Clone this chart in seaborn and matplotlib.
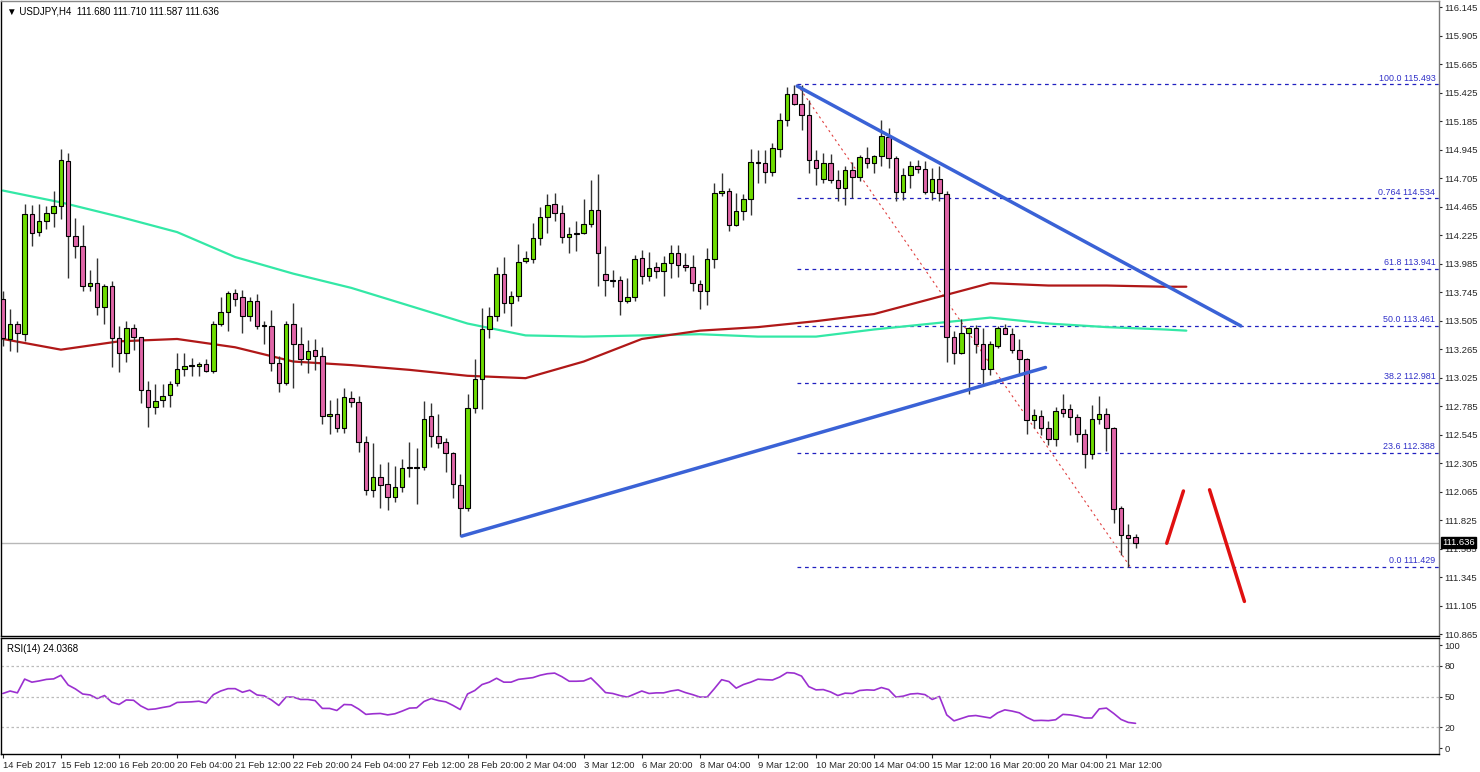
import numpy as np
import pandas as pd
import seaborn as sns
import matplotlib.pyplot as plt

# USDJPY H4 candles
opens = [113.69, 113.35, 113.48, 113.39, 114.40, 114.25, 114.34, 114.41, 114.47, 114.85,
         114.22, 114.13, 113.80, 113.82, 113.62, 113.80, 113.36, 113.23, 113.44, 113.37,
         112.92, 112.78, 112.84, 112.88, 112.98, 113.10, 113.12, 113.12, 113.14, 113.08,
         113.48, 113.58, 113.74, 113.70, 113.54, 113.67, 113.46, 113.46, 113.15, 112.98,
         113.48, 113.31, 113.18, 113.26, 113.21, 112.70, 112.72, 112.60, 112.85, 112.82,
         112.48, 112.08, 112.19, 112.13, 112.02, 112.10, 112.27, 112.27, 112.27, 112.70,
         112.53, 112.48, 112.39, 112.12, 111.93, 112.77, 113.01, 113.43, 113.54, 113.90,
         113.65, 113.71, 114.01, 114.02, 114.20, 114.38, 114.49, 114.41, 114.21, 114.24,
         114.24, 114.32, 114.44, 113.90, 113.85, 113.85, 113.67, 113.70, 114.03, 113.88,
         113.96, 113.92, 113.99, 114.07, 113.97, 113.96, 113.81, 113.75, 114.02, 114.58,
         114.60, 114.31, 114.43, 114.53, 114.84, 114.83, 114.76, 114.95, 115.19, 115.41,
         115.33, 115.24, 114.86, 114.70, 114.83, 114.69, 114.62, 114.77, 114.71, 114.87,
         114.83, 114.89, 115.05, 114.87, 114.59, 114.73, 114.81, 114.78, 114.59, 114.70,
         114.57, 113.37, 113.23, 113.40, 113.44, 113.31, 113.10, 113.29, 113.44, 113.39,
         113.26, 113.18, 112.67, 112.70, 112.60, 112.51, 112.76, 112.76, 112.69, 112.55,
         112.38, 112.68, 112.72, 112.60, 111.93, 111.70, 111.680]
highs = [113.75, 113.60, 113.50, 114.49, 114.48, 114.49, 114.47, 114.60, 114.95, 114.92,
         114.37, 114.31, 113.93, 114.03, 113.81, 113.84, 113.46, 113.50, 113.48, 113.37,
         113.00, 112.97, 112.97, 113.00, 113.23, 113.23, 113.19, 113.16, 113.18, 113.50,
         113.70, 113.75, 113.77, 113.76, 113.70, 113.73, 113.50, 113.59, 113.21, 113.50,
         113.65, 113.45, 113.34, 113.35, 113.28, 112.84, 112.85, 112.94, 112.91, 112.87,
         112.53, 112.47, 112.30, 112.31, 112.28, 112.34, 112.48, 112.43, 112.83, 112.81,
         112.72, 112.52, 112.40, 112.21, 112.89, 113.18, 113.61, 113.62, 113.96, 114.04,
         113.75, 114.15, 114.09, 114.33, 114.46, 114.57, 114.58, 114.48, 114.29, 114.34,
         114.53, 114.69, 114.74, 114.13, 113.93, 113.88, 113.86, 114.06, 114.10, 114.08,
         114.00, 114.05, 114.14, 114.14, 114.07, 114.06, 113.85, 114.12, 114.66, 114.75,
         114.62, 114.58, 114.57, 114.95, 114.94, 114.94, 115.00, 115.25, 115.47, 115.49,
         115.49, 115.36, 114.94, 114.92, 114.91, 114.77, 114.81, 114.84, 114.90, 114.97,
         114.90, 115.19, 115.13, 114.89, 114.79, 114.85, 114.86, 114.85, 114.79, 114.81,
         114.60, 113.42, 113.52, 113.45, 113.47, 113.44, 113.33, 113.46, 113.48, 113.44,
         113.35, 113.19, 112.76, 112.75, 112.66, 112.78, 112.89, 112.80, 112.72, 112.59,
         112.79, 112.87, 112.77, 112.61, 111.94, 111.79, 111.710]
lows = [113.29, 113.25, 113.24, 113.33, 114.13, 114.22, 114.28, 114.29, 114.36, 113.86,
        114.03, 113.75, 113.75, 113.55, 113.48, 113.11, 113.07, 113.16, 113.26, 112.81,
        112.61, 112.72, 112.78, 112.78, 112.95, 113.04, 113.04, 113.04, 113.07, 113.06,
        113.46, 113.42, 113.63, 113.40, 113.50, 113.43, 113.31, 113.08, 112.90, 112.96,
        112.94, 113.13, 113.06, 113.09, 112.63, 112.55, 112.57, 112.56, 112.78, 112.40,
        112.04, 112.02, 111.93, 111.91, 111.98, 112.06, 112.19, 111.96, 112.25, 112.44,
        112.43, 112.23, 112.01, 111.69, 111.90, 112.73, 112.76, 113.36, 113.50, 113.57,
        113.46, 113.67, 113.99, 113.99, 114.14, 114.24, 114.34, 114.16, 114.07, 114.09,
        114.23, 114.29, 113.80, 113.71, 113.79, 113.55, 113.65, 113.67, 113.81, 113.84,
        113.86, 113.71, 113.86, 113.87, 113.92, 113.75, 113.60, 113.64, 113.95, 114.55,
        114.26, 114.30, 114.35, 114.39, 114.66, 114.66, 114.72, 114.88, 115.14, 115.32,
        115.11, 114.75, 114.65, 114.66, 114.66, 114.51, 114.48, 114.54, 114.68, 114.79,
        114.75, 114.81, 114.79, 114.51, 114.52, 114.62, 114.75, 114.57, 114.52, 114.51,
        113.16, 113.14, 113.22, 112.89, 113.23, 112.97, 113.05, 113.27, 113.39, 113.23,
        113.05, 112.55, 112.60, 112.54, 112.46, 112.45, 112.69, 112.54, 112.48, 112.26,
        112.34, 112.63, 112.41, 111.80, 111.53, 111.429, 111.587]
closes = [113.36, 113.48, 113.40, 114.40, 114.24, 114.34, 114.41, 114.47, 114.86, 114.22,
          114.13, 113.80, 113.82, 113.62, 113.80, 113.36, 113.23, 113.44, 113.37, 112.92,
          112.78, 112.83, 112.87, 112.97, 113.10, 113.12, 113.13, 113.14, 113.08, 113.48,
          113.58, 113.74, 113.69, 113.54, 113.67, 113.46, 113.47, 113.15, 112.98, 113.48,
          113.31, 113.18, 113.25, 113.21, 112.70, 112.72, 112.60, 112.86, 112.82, 112.48,
          112.08, 112.19, 112.12, 112.02, 112.10, 112.26, 112.26, 112.26, 112.68, 112.53,
          112.47, 112.39, 112.13, 111.93, 112.77, 113.01, 113.43, 113.54, 113.90, 113.65,
          113.71, 114.00, 114.03, 114.20, 114.38, 114.48, 114.41, 114.21, 114.23, 114.23,
          114.32, 114.44, 114.07, 113.85, 113.84, 113.67, 113.70, 114.02, 113.88, 113.95,
          113.92, 113.99, 114.07, 113.97, 113.96, 113.82, 113.75, 114.02, 114.58, 114.60,
          114.31, 114.43, 114.53, 114.84, 114.83, 114.76, 114.96, 115.19, 115.41, 115.33,
          115.24, 114.86, 114.79, 114.83, 114.69, 114.62, 114.77, 114.71, 114.88, 114.83,
          114.89, 115.06, 114.87, 114.59, 114.73, 114.81, 114.78, 114.59, 114.70, 114.58,
          113.37, 113.23, 113.40, 113.44, 113.31, 113.10, 113.31, 113.44, 113.39, 113.26,
          113.18, 112.67, 112.71, 112.60, 112.51, 112.74, 112.73, 112.69, 112.55, 112.38,
          112.68, 112.72, 112.60, 111.92, 111.70, 111.67, 111.636]

# moving averages (sampled along the chart)
ma_bars = [0, 8, 16, 24, 32, 40, 48, 56, 64, 72, 80, 88, 96, 104, 112, 120, 128, 136, 144, 152, 160, 163]
ma_green = [114.60, 114.50, 114.38, 114.25, 114.04, 113.90, 113.78, 113.63, 113.48, 113.38, 113.37,
            113.38, 113.39, 113.37, 113.37, 113.43, 113.48, 113.53, 113.48, 113.45, 113.43, 113.42]
ma_red = [113.35, 113.26, 113.33, 113.35, 113.28, 113.16, 113.13, 113.09, 113.04, 113.02, 113.16,
          113.35, 113.42, 113.45, 113.50, 113.56, 113.69, 113.82, 113.80, 113.80, 113.79, 113.79]

rsi = [53.0, 55.4, 53.6, 67.0, 64.0, 65.2, 66.7, 67.2, 70.7, 61.2, 57.4, 52.5, 51.6, 48.1, 51.0,
       44.6, 42.3, 46.7, 46.4, 40.9, 37.4, 38.0, 39.4, 40.6, 44.3, 44.6, 44.9, 45.5, 43.7, 51.9,
       55.4, 57.7, 57.7, 54.2, 56.2, 51.6, 50.7, 46.7, 41.4, 49.5, 49.5, 47.2, 47.2, 46.1, 38.5,
       38.5, 36.5, 42.3, 42.0, 37.9, 32.7, 33.3, 33.6, 32.2, 33.3, 35.9, 38.8, 39.1, 45.2, 48.1,
       46.1, 44.9, 41.4, 37.4, 52.5, 55.9, 61.7, 64.0, 67.8, 64.0, 64.0, 66.7, 67.5, 68.4, 70.7,
       72.2, 72.8, 69.3, 64.9, 64.9, 65.2, 68.1, 61.2, 53.9, 53.0, 51.0, 49.5, 52.5, 55.4, 53.0,
       53.6, 53.6, 55.4, 56.5, 53.9, 51.9, 49.5, 49.5, 57.7, 66.4, 64.6, 58.2, 61.7, 64.0, 66.9,
       66.4, 66.1, 69.0, 73.3, 72.8, 69.9, 59.7, 56.5, 56.8, 54.5, 51.0, 53.3, 53.0, 55.9, 56.5,
       56.2, 58.8, 56.8, 49.5, 50.4, 52.5, 53.0, 51.9, 47.2, 50.1, 32.2, 26.4, 28.7, 31.0, 31.6,
       30.4, 29.2, 34.2, 37.1, 35.9, 34.2, 29.9, 26.6, 26.9, 26.6, 27.5, 32.7, 32.2, 31.0, 29.2,
       29.2, 38.0, 38.8, 33.6, 27.8, 24.9, 24.0]

fib_levels = [115.493, 114.534, 113.941, 113.461, 112.981, 112.388, 111.429]
fib_pcts = ["100.0", "0.764", "61.8", "50.0", "38.2", "23.6", "0.0"]
fib_start = 109.4

date_ticks = list(range(0, 153, 8))
date_labels = ["14 Feb 2017", "15 Feb 12:00", "16 Feb 20:00", "20 Feb 04:00", "21 Feb 12:00",
               "22 Feb 20:00", "24 Feb 04:00", "27 Feb 12:00", "28 Feb 20:00", "2 Mar 04:00",
               "3 Mar 12:00", "6 Mar 20:00", "8 Mar 04:00", "9 Mar 12:00", "10 Mar 20:00",
               "14 Mar 04:00", "15 Mar 12:00", "16 Mar 20:00", "20 Mar 04:00", "21 Mar 12:00"]
price_ticks = [116.145 - 0.24 * k for k in range(23)]
last_price = 111.636

# trend lines / arrows: (bar, price) pairs
down_line = ([109.4, 170.5], [115.48, 113.46])
up_line = ([63.2, 143.6], [111.69, 113.11])
fib_diag = ([109.4, 155.3], [115.493, 111.429])
arrow_up = ([160.3, 162.6], [111.63, 112.07])
arrow_down = ([166.2, 171.0], [112.08, 111.14])

df = pd.DataFrame({"o": opens, "h": highs, "l": lows, "c": closes})
df["bar"] = np.arange(len(df))
df["bull"] = df["c"] >= df["o"]

sns.set_style("white")
plt.rcParams["font.family"] = ["Liberation Sans", "DejaVu Sans"]
FS = 6.4
fig = plt.figure(figsize=(14.8, 7.72), dpi=100)
ax = fig.add_axes([0.0007, 0.1762, 0.9716, 0.8225])
ax2 = fig.add_axes([0.0007, 0.0233, 0.9716, 0.1500])

XMIN, XMAX = -0.25, 197.8

# moving averages
sns.lineplot(x=ma_bars, y=ma_green, ax=ax, color="#33E8A6", lw=1.6, zorder=2)
sns.lineplot(x=ma_bars, y=ma_red, ax=ax, color="#B01818", lw=1.6, zorder=2)

# fib levels
for lv, pc in zip(fib_levels, fib_pcts):
    ax.hlines(lv, fib_start, XMAX, colors="#2020C0", lw=0.9, linestyles=(0, (3, 3)), zorder=1)
    ax.text(XMAX - 0.5, lv + 0.015, f"{pc} {lv:.3f}", ha="right", va="bottom",
            fontsize=FS, color="#3030C8")
ax.plot(*fib_diag, color="#E04040", lw=0.8, ls=(0, (2, 3)), zorder=1)

# candles
colors = np.where(df["bull"], "#6EDC00", "#E066A8")
ax.vlines(df["bar"], df["l"], df["h"], colors="#333333", lw=1, zorder=3)
body_lo = np.minimum(df["o"], df["c"])
body_h = np.maximum(np.abs(df["c"] - df["o"]), 0.008)
ax.bar(df["bar"], body_h, bottom=body_lo, width=0.62, color=colors,
       edgecolor="black", linewidth=0.8, zorder=4)

# trend lines and arrows
ax.plot(*down_line, color="#3A62D6", lw=2.5, zorder=5)
ax.plot(*up_line, color="#3A62D6", lw=2.5, zorder=5)
ax.plot(*arrow_up, color="#E01010", lw=2.5, zorder=5)
ax.plot(*arrow_down, color="#E01010", lw=2.5, zorder=5)

# current price
ax.axhline(last_price, color="#B8B8B8", lw=1, zorder=1)
ax.annotate(f"{last_price:.3f}", xy=(1.002, last_price), xycoords=("axes fraction", "data"),
            ha="left", va="center", fontsize=FS + 0.4, color="white",
            bbox=dict(boxstyle="square,pad=0.12", fc="black", ec="black"))

ax.set_xlim(XMIN, XMAX)
ax.set_ylim(110.849, 116.196)
ax.yaxis.tick_right()
ax.set_yticks(price_ticks)
ax.set_yticklabels([f"{t:.3f}" for t in price_ticks])
ax.tick_params(axis="y", labelsize=FS + 0.4, length=2.5, width=0.8, pad=1.5, right=True)
ax.set_xticks([])
ax.set_xlabel("")
ax.set_ylabel("")
for s in ax.spines.values():
    s.set_color("black")
    s.set_linewidth(1)
ax.spines["top"].set_color("#888888")
ax.spines["right"].set_color("#777777")
ax.text(0.004, 0.992, "\u25BC USDJPY,H4  111.680 111.710 111.587 111.636", transform=ax.transAxes,
        ha="left", va="top", fontsize=FS + 0.6, color="black")

# RSI
sns.lineplot(x=df["bar"], y=rsi, ax=ax2, color="#9B30D0", lw=1.2)
for lv in [80, 50, 20]:
    ax2.axhline(lv, color="#BBBBBB", lw=0.9, ls=(0, (2, 2)))
ax2.set_xlim(XMIN, XMAX)
ax2.set_ylim(-5.8, 106.7)
ax2.yaxis.tick_right()
ax2.set_yticks([100, 80, 50, 20, 0])
ax2.tick_params(axis="y", labelsize=FS + 0.4, length=2.5, pad=1.5, right=True)
ax2.set_xticks(date_ticks)
ax2.set_xticklabels(date_labels, ha="left")
ax2.tick_params(axis="x", labelsize=FS + 0.4, length=3, pad=2, bottom=True)
ax2.set_xlabel("")
ax2.set_ylabel("")
for s in ax2.spines.values():
    s.set_color("black")
    s.set_linewidth(1)
ax2.spines["right"].set_color("#777777")
ax2.text(0.004, 0.95, "RSI(14) 24.0368", transform=ax2.transAxes, ha="left", va="top",
         fontsize=FS + 0.6, color="black")

fig.savefig("out.png", dpi=100, facecolor="white")
